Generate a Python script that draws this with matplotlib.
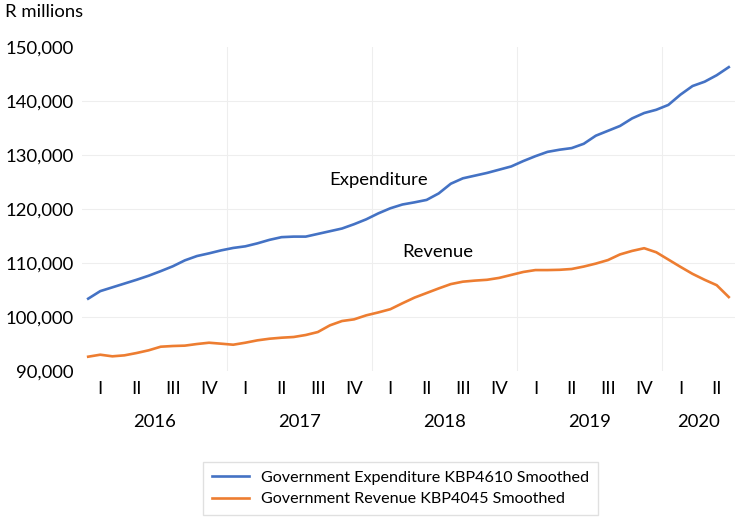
import numpy as np
import matplotlib
matplotlib.use("Agg")
import matplotlib.pyplot as plt
from matplotlib.ticker import FuncFormatter

plt.rcParams['font.family'] = ['Lato', 'DejaVu Sans']

# monthly, Jan 2016 - Jun 2020 (R millions)
expenditure = [103400, 104800, 105500, 106200, 106900, 107650, 108500, 109400, 110500, 111300,
               111800, 112350, 112800, 113100, 113650, 114300, 114800, 114900, 114900, 115400,
               115900, 116400, 117200, 118100, 119200, 120150, 120850, 121250, 121700, 122900,
               124700, 125700, 126200, 126700, 127300, 127900, 128900, 129800, 130600, 131000,
               131300, 132100, 133600, 134500, 135400, 136800, 137800, 138400, 139300, 141200,
               142800, 143600, 144800, 146300]
revenue = [92650, 93020, 92720, 92900, 93330, 93830, 94500, 94630, 94700, 95000,
           95240, 95060, 94870, 95240, 95680, 95980, 96170, 96300, 96670, 97220,
           98460, 99260, 99570, 100310, 100850, 101450, 102550, 103600, 104450, 105300,
           106100, 106550, 106750, 106900, 107250, 107800, 108350, 108700, 108700, 108750,
           108900, 109350, 109900, 110550, 111600, 112250, 112750, 112000, 110650, 109300,
           108000, 106900, 105900, 103700]

years = ["2016", "2017", "2018", "2019", "2020"]
quarters = ["I", "II", "III", "IV"]
months_in_year = [12, 12, 12, 12, 6]

x = np.arange(len(expenditure))

fig = plt.figure(figsize=(7.4, 5.3), dpi=100)
ax = fig.add_axes([0.111, 0.300, 0.882, 0.611])

ax.plot(x, expenditure, color='#4472C4', lw=1.9, label='Government Expenditure KBP4610 Smoothed')
ax.plot(x, revenue, color='#ED7D31', lw=1.9, label='Government Revenue KBP4045 Smoothed')

ax.set_xlim(-0.5, len(x) - 0.5)
ax.set_ylim(90000, 150000)
ax.set_yticks(np.arange(90000, 150001, 10000))
ax.yaxis.set_major_formatter(FuncFormatter(lambda v, p: f"{int(v):,}"))

# quarter labels (major) and year labels (minor)
q_pos, q_lab, y_pos, bounds = [], [], [], []
start = 0
for yr, n in zip(years, months_in_year):
    for q in range(n // 3):
        q_pos.append(start + 3 * q + 1)
        q_lab.append(quarters[q])
    y_pos.append(start + (n - 1) / 2)
    start += n
    if start < len(x):
        bounds.append(start - 0.5)

ax.set_xticks(q_pos)
ax.set_xticklabels(q_lab)
ax.set_xticks(y_pos, minor=True)
ax.set_xticklabels(years, minor=True)
ax.tick_params(axis='x', which='major', length=0, pad=7, labelsize=13.3)
ax.tick_params(axis='x', which='minor', length=0, pad=31, labelsize=13.3)
ax.tick_params(axis='y', length=0, pad=6, labelsize=13.3)

# faint gridlines (none at the top edge)
for v in np.arange(100000, 140001, 10000):
    ax.axhline(v, color='#eeeeee', lw=0.8, zorder=0)
for b in bounds:
    ax.axvline(b, color='#eeeeee', lw=0.8, zorder=0)
for s in ax.spines.values():
    s.set_visible(False)

ax.text(24.0, 125300, "Expenditure", fontsize=13.3, ha='center', va='center')
ax.text(28.9, 112100, "Revenue", fontsize=13.3, ha='center', va='center')

fig.text(0.007, 0.977, "R millions", fontsize=13.3, ha='left', va='center')

ax.legend(loc='upper center', bbox_to_anchor=(0.488, -0.255), frameon=True, fontsize=11.6,
          handlelength=2.3, handletextpad=0.75, edgecolor='#d9d9d9', fancybox=False,
          borderpad=0.55, labelspacing=0.45)

fig.savefig("out.png", dpi=100)
